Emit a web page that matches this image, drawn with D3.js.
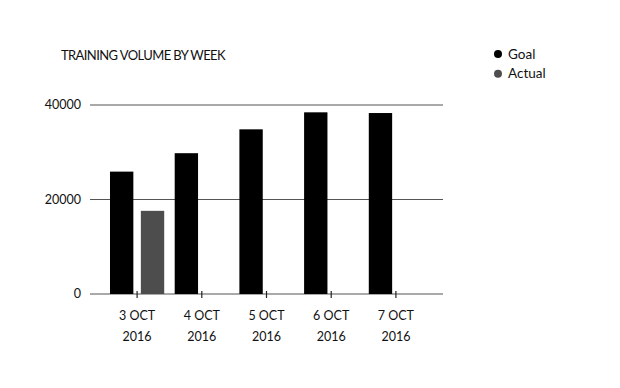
<!DOCTYPE html>
<html>
<head>
<meta charset="utf-8">
<script src="https://cdn.jsdelivr.net/npm/d3@7"></script>
<style>
  body { margin: 0; background: #fff; }
  svg { font-family: Lato, "Open Sans", sans-serif; }
</style>
</head>
<body>
<svg id="chart" width="620" height="388"></svg>
<script>
// chart data
let days = ["3 OCT 2016", "4 OCT 2016", "5 OCT 2016", "6 OCT 2016", "7 OCT 2016"]
let series = ["Goal", "Actual"]
let goal = [25900, 29800, 34850, 38450, 38300]
let actual = [17600, null, null, null, null]
let yTicks = [0, 20000, 40000]
let colors = {"Goal": "#000000", "Actual": "#4d4d4d"}

function drawBars(){
    let svg = d3.select("#chart")

    let left = 90, right = 443, top = 105, bottom = 294

    let x = d3.scaleBand()
        .domain(days)
        .range([left, right])
        .paddingInner(0)
        .paddingOuter(0.228)

    let xInner = d3.scaleBand()
        .domain(series)
        .range([0, x.bandwidth()])
        .paddingInner(0.243)
        .paddingOuter(0.17)

    let y = d3.scaleLinear()
        .domain([0, 40000])
        .range([bottom, top])

    // title
    svg.append("text")
        .attr("x", 61)
        .attr("y", 60)
        .style("font-size", "13px")
        .style("letter-spacing", "-0.6px")
        .attr("fill", "#111")
        .text("TRAINING VOLUME BY WEEK")

    // grid lines + y labels
    let grid = svg.append("g")
    grid.selectAll("line")
        .data(yTicks)
        .enter().append("line")
        .attr("x1", left)
        .attr("x2", right)
        .attr("y1", d => y(d))
        .attr("y2", d => y(d))
        .attr("stroke", "#555")
        .attr("stroke-width", 1.2)

    grid.selectAll("text")
        .data(yTicks)
        .enter().append("text")
        .attr("x", 81)
        .attr("y", d => y(d))
        .attr("dy", "0.35em")
        .attr("text-anchor", "end")
        .style("font-size", "12.5px")
        .attr("fill", "#111")
        .text(d => d)

    // bars
    let rows = []
    days.forEach((d, i) => {
        rows.push({day: d, key: "Goal", value: goal[i]})
        if(actual[i] != null) rows.push({day: d, key: "Actual", value: actual[i]})
    })

    svg.append("g").selectAll("rect")
        .data(rows)
        .enter().append("rect")
        .attr("x", d => x(d.day) + xInner(d.key))
        .attr("y", d => y(d.value))
        .attr("width", xInner.bandwidth())
        .attr("height", d => y(0) - y(d.value))
        .attr("fill", d => colors[d.key])

    // x ticks
    let xAxis = d3.axisBottom(x)
        .tickSize(7)
        .tickFormat("")

    let ax = svg.append("g")
        .attr("transform", "translate(0," + (bottom - 3) + ")")
        .call(xAxis)
    ax.select(".domain").remove()
    ax.selectAll(".tick line").attr("stroke", "#222").attr("stroke-width", 1.2)

    // x labels, two lines
    let labels = svg.append("g").selectAll("text")
        .data(days)
        .enter().append("text")
        .attr("text-anchor", "middle")
        .style("font-size", "12.5px")
        .attr("fill", "#111")
    labels.append("tspan")
        .attr("x", d => x(d) + x.bandwidth() / 2)
        .attr("y", 320)
        .text(d => d.split(" ").slice(0, 2).join(" "))
    labels.append("tspan")
        .attr("x", d => x(d) + x.bandwidth() / 2)
        .attr("y", 341)
        .text(d => d.split(" ")[2])

    // legend
    let legend = svg.append("g").selectAll("g")
        .data(series)
        .enter().append("g")
        .attr("transform", (d, i) => "translate(498," + (54 + i * 19.7) + ")")
    legend.append("circle")
        .attr("r", 4)
        .attr("fill", d => colors[d])
    legend.append("text")
        .attr("x", 10)
        .attr("dy", "0.35em")
        .style("font-size", "13.5px")
        .attr("fill", "#111")
        .text(d => d)
}

drawBars()
</script>
</body>
</html>
